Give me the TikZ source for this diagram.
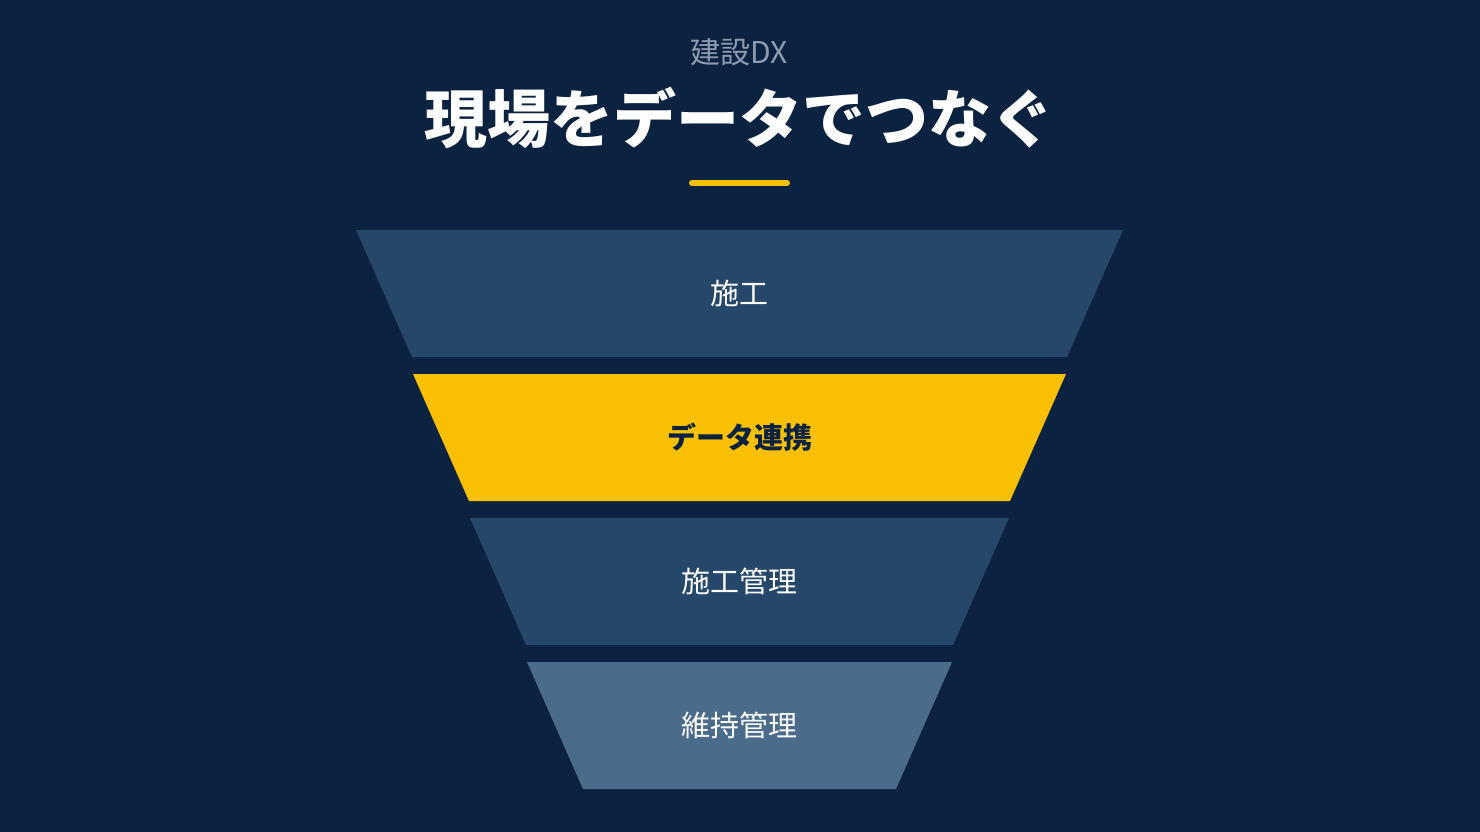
\documentclass[tikz,border=0pt]{standalone}
\usepackage{fontspec}
\newfontfamily\jp{Noto Sans CJK JP}
\usetikzlibrary{positioning}

\definecolor{bgnavy}{HTML}{0B2340}
\definecolor{layerblue}{HTML}{24476A}
\definecolor{layersteel}{HTML}{4A6B8A}
\definecolor{accent}{HTML}{F8C000}
\definecolor{subgray}{HTML}{8C9BB0}

\begin{document}
\begin{tikzpicture}[
    x=1pt, y=-1pt,
    kicker/.style={font=\jp\fontsize{30}{34}\selectfont, text=subgray, inner sep=0pt},
    headline/.style={font=\jp\bfseries\fontsize{63}{70}\selectfont, text=white, inner sep=0pt},
    layer/.style={font=\jp\fontsize{29}{34}\selectfont, inner sep=0pt},
]
    \fill[bgnavy] (0,0) rectangle (1480,832);

    \node[kicker] (sub) at (739.5,52) {建設DX};
    \node[headline] (title) at (739.5,118) {現場をデータでつなぐ};
    \coordinate (barL) at (692,183);
    \coordinate (barR) at (787,183);
    \draw[accent, line width=6pt, line cap=round] (barL) -- (barR);

    % funnel layers, top to bottom
    \foreach \i/\txt/\col/\tcol in {0/施工/layerblue/white,
                                    1/{\bfseries データ連携}/accent/bgnavy,
                                    2/施工管理/layerblue/white,
                                    3/維持管理/layersteel/white} {
        \pgfmathsetmacro\ytop{230+144*\i}
        \pgfmathsetmacro\hw{383.5-57*\i}
        \fill[\col] (739.5-\hw,\ytop) -- (739.5+\hw,\ytop)
            -- (739.5+\hw-56,\ytop+127) -- (739.5-\hw+56,\ytop+127) -- cycle;
        \node[layer, text=\tcol] (layer\i) at (739.5,\ytop+63.5) {\txt};
    }
\end{tikzpicture}
\end{document}
